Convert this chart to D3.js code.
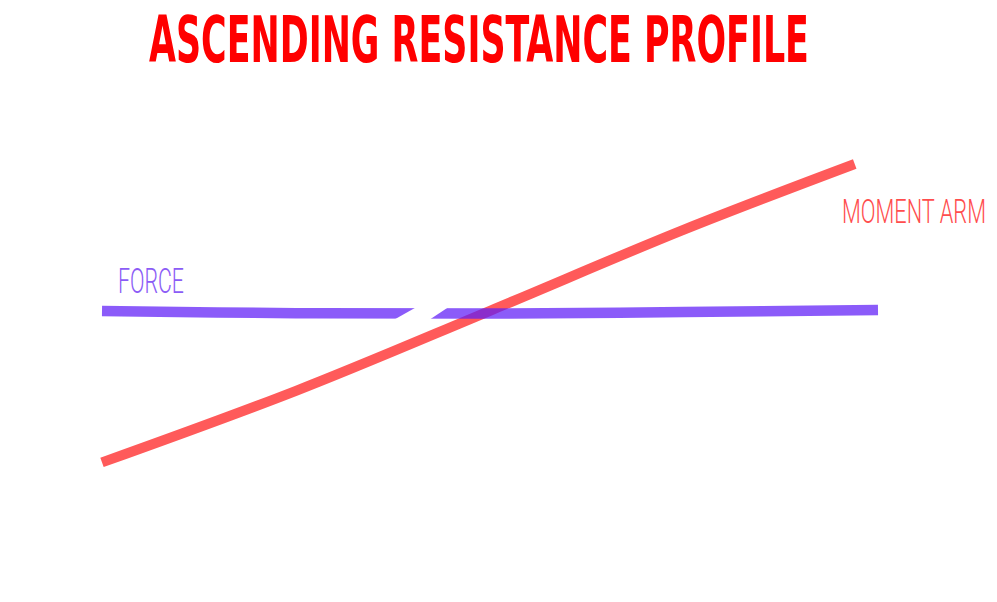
<!DOCTYPE html>
<html>
<head>
<meta charset="utf-8">
<script src="https://cdn.jsdelivr.net/npm/d3@7/dist/d3.min.js"></script>
<style>
  html, body { margin: 0; padding: 0; background: #ffffff; }
  svg { display: block; }
</style>
</head>
<body>
<svg id="chart" width="997" height="602"></svg>
<script>
// ---- data ----
const titleText = "ASCENDING RESISTANCE PROFILE";
const forceLabel = "FORCE";
const momentLabel = "MOMENT ARM";

// position through the range of motion (0-100)
const forceX = [0, 25, 50, 75, 100];
const forceY = [47.25, 46.7, 46.6, 47, 47.5];

const momentX = [0, 25, 50, 75, 97];
const momentY = [9.4, 27.3, 47.3, 67.6, 84];

// slanted break in the force line (data units)
const breakBottom = [37.4, 42.0];
const breakTop = [41.4, 45.4];

// ---- chart ----
const svg = d3.select("#chart");
const W = 997, H = 602;

const x = d3.scaleLinear().domain([0, 100]).range([102, 878]);
const y = d3.scaleLinear().domain([0, 100]).range([500, 100]);

const line = d3.line()
  .x(d => x(d[0]))
  .y(d => y(d[1]))
  .curve(d3.curveCatmullRom.alpha(0.5));

const momentData = momentX.map((v, i) => [v, momentY[i]]);
const forceData = forceX.map((v, i) => [v, forceY[i]]);

svg.append("rect").attr("width", W).attr("height", H).attr("fill", "#ffffff");

// moment arm line
svg.append("path")
  .datum(momentData)
  .attr("d", line)
  .attr("fill", "none")
  .attr("stroke", "#ff5a5a")
  .attr("stroke-width", 10);

// force line (translucent, on top)
const forceG = svg.append("g").attr("opacity", 0.72);
forceG.append("path")
  .datum(forceData)
  .attr("d", line)
  .attr("fill", "none")
  .attr("stroke", "#5e1cf6")
  .attr("stroke-width", 10.5);

// the break
const yMid = d3.mean(forceY);
const yT = yMid + 2.2, yB = yMid - 2.2;
svg.append("polygon")
  .attr("points", [
    [x(breakBottom[0]), y(yB)],
    [x(breakTop[0]), y(yT)],
    [x(breakTop[1]), y(yT)],
    [x(breakBottom[1]), y(yB)]
  ].map(p => p.join(",")).join(" "))
  .attr("fill", "#ffffff");

// fitted text: scale horizontally to target width
function fitText(txt, left, baseline, width, size, family, weight, color) {
  const g = svg.append("g");
  const t = g.append("text")
    .attr("x", 0).attr("y", 0)
    .attr("font-family", family)
    .attr("font-weight", weight)
    .attr("font-size", size)
    .attr("fill", color)
    .text(txt);
  const w = t.node().getComputedTextLength();
  g.attr("transform", `translate(${left},${baseline}) scale(${width / w},1)`);
}

fitText(titleText, 149, 62, 660, 64,
  "'Liberation Sans Narrow', 'DejaVu Sans Condensed', sans-serif", "bold", "#ff0000");
fitText(forceLabel, 118, 293, 66, 35,
  "Roboto, 'Liberation Sans Narrow', sans-serif", 300, "#8b5cf6");
fitText(momentLabel, 842, 223, 144, 34,
  "Roboto, 'Liberation Sans Narrow', sans-serif", 300, "#ff4d4d");
</script>
</body>
</html>
